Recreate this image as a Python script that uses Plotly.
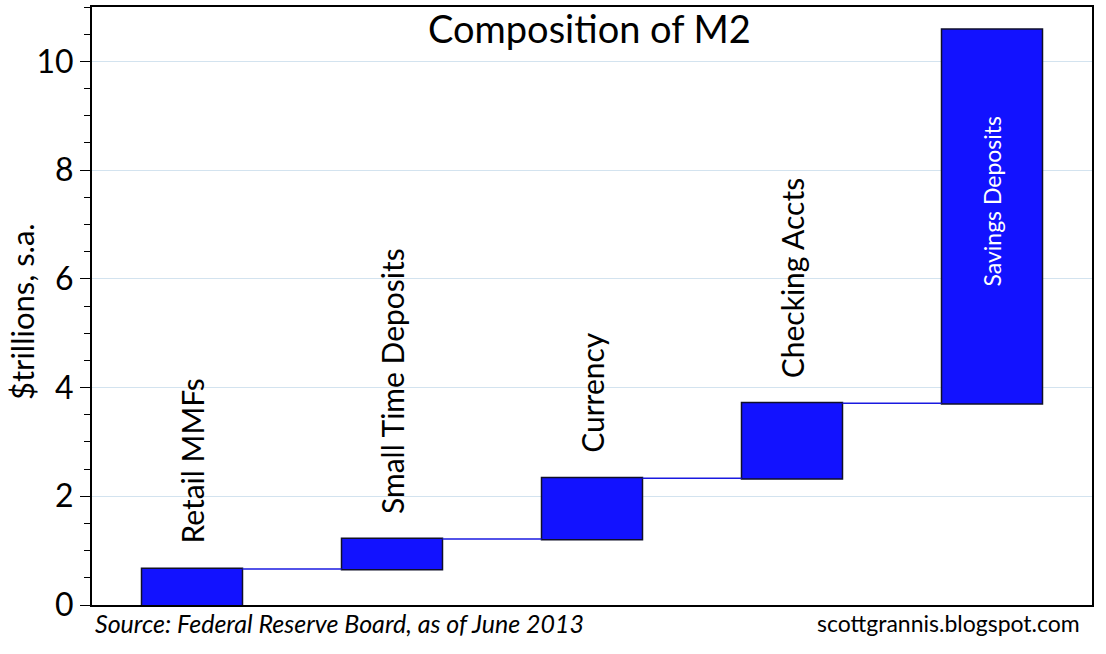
import plotly.graph_objects as go

categories = ["Retail MMFs", "Small Time Deposits", "Currency", "Checking Accts", "Savings Deposits"]
values = [0.66, 0.555, 1.115, 1.38, 6.87]   # $ trillions, each component
y_ticks = [0, 2, 4, 6, 8, 10]
title_text = "Composition of M2"
y_title = "$trillions, s.a."
source_text = "Source: Federal Reserve Board, as of June 2013"
credit_text = "scottgrannis.blogspot.com"

FONT = "Lato"
BLUE = "#1212FF"

fig = go.Figure()
fig.add_trace(go.Waterfall(
    x=categories,
    y=values,
    measure=["relative"] * len(values),
    width=0.505,
    increasing=dict(marker=dict(color=BLUE, line=dict(color="#10102a", width=1.5))),
    connector=dict(mode="between", line=dict(color="#1a1ae0", width=1.5)),
    hoverinfo="skip",
    showlegend=False,
))

# cumulative tops/bottoms for labels
tops, bottoms = [], []
run = 0
for v in values:
    bottoms.append(run)
    run += v
    tops.append(run)

annotations = []
for i, c in enumerate(categories):
    if i < len(categories) - 1:
        annotations.append(dict(
            x=c, y=tops[i], xref="x", yref="y", text=c, textangle=-90,
            showarrow=False, xanchor="center", yanchor="bottom", yshift=23,
            font=dict(family=FONT, size=30, color="black")))
    else:
        annotations.append(dict(
            x=c, y=(tops[i] + bottoms[i]) / 2, xref="x", yref="y", text=c, textangle=-90,
            showarrow=False, xanchor="center", yanchor="middle", yshift=15,
            font=dict(family=FONT, size=23, color="white")))

annotations += [
    dict(x=0.497, y=1.0, xref="paper", yref="paper", text=title_text, showarrow=False,
         xanchor="center", yanchor="middle", yshift=-21,
         font=dict(family=FONT, size=38, color="black")),
    dict(x=0, y=0.49, xref="paper", yref="paper", text=y_title, showarrow=False,
         textangle=-90, xanchor="center", yanchor="middle", xshift=-70,
         font=dict(family=FONT, size=31, color="black")),
    dict(x=0, y=0, xref="paper", yref="paper", text="<i>" + source_text + "</i>", showarrow=False,
         xanchor="left", yanchor="middle", xshift=1, yshift=-18,
         font=dict(family=FONT, size=25, color="black")),
    dict(x=1, y=0, xref="paper", yref="paper", text=credit_text, showarrow=False,
         xanchor="right", yanchor="middle", xshift=-10, yshift=-18,
         font=dict(family=FONT, size=23, color="black")),
]

fig.update_layout(
    width=1106, height=654,
    margin=dict(l=92, r=14, t=5, b=49),
    paper_bgcolor="white", plot_bgcolor="white",
    annotations=annotations,
    xaxis=dict(range=[-0.5, 4.5], showticklabels=False, ticks="", showgrid=False,
               showline=True, linecolor="black", linewidth=2, mirror=True, zeroline=False),
    yaxis=dict(range=[0, 11], tickvals=y_ticks, ticks="outside", ticklen=10, tickwidth=1,
               tickcolor="black", showgrid=True, gridcolor="#d3e3ef", gridwidth=1,
               showline=True, linecolor="black", linewidth=2, mirror=True, zeroline=False,
               tickfont=dict(family=FONT, size=32, color="black"),
               minor=dict(dtick=0.5, ticks="outside", ticklen=6, tickcolor="black", showgrid=False)),
)

fig.write_html("out.html", config={"displayModeBar": False},
               post_script="document.body.style.margin='0';document.body.style.padding='0';")
